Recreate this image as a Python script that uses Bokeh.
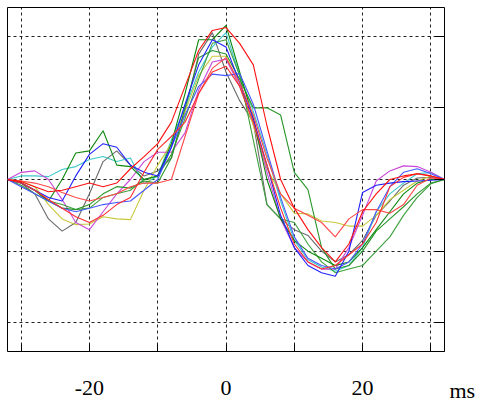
from bokeh.plotting import figure
from bokeh.models import FixedTicker, Range1d
from bokeh.embed import file_html
from bokeh.resources import INLINE

t_ms = [-32, -30, -28, -26, -24, -22, -20, -18, -16, -14, -12, -10, -8, -6, -4, -2,
        0, 2, 4, 6, 8, 10, 12, 14, 16, 18, 20, 22, 24, 26, 28, 30, 32]

gray = [0, -0.05, -0.2, -0.55, -0.72, -0.6, -0.2, 0.25, 0.4, 0.2, 0.05, 0.12, 0.3, 0.95, 1.75, 2.05,
        1.5, 1.1, 0.8, -0.35, -0.55, -0.7, -0.78, -1.0, -1.15, -1.05, -0.85, -0.5, -0.3, -0.08, 0.02, 0.03, 0]
cyan = [0, 0.05, 0.05, 0.04, 0.14, 0.18, 0.28, 0.32, 0.25, 0.3, -0.06, 0.05, 0.55, 1.0, 1.5, 1.85,
        2.05, 1.45, 0.95, 0.35, -0.3, -0.85, -1.12, -1.22, -1.28, -1.2, -0.95, -0.45, -0.2, -0.05, 0.08, 0.1, 0]
blue_a = [0, -0.05, -0.15, -0.25, -0.3, 0.05, 0.35, 0.5, 0.45, 0.2, 0.1, 0.05, 0.45, 1.05, 1.6, 1.95,
          1.85, 1.35, 0.85, 0.2, -0.5, -0.95, -1.2, -1.3, -1.35, -1.0, -0.18, -0.08, -0.05, -0.03, -0.02, -0.01, 0]
blue_b = [0, -0.1, -0.2, -0.3, -0.4, -0.45, -0.4, -0.35, -0.32, -0.3, -0.15, 0.0, 0.45, 0.9, 1.3, 1.47,
          1.45, 1.48, 1.05, 0.4, -0.25, -0.8, -1.1, -1.2, -1.25, -1.15, -0.9, -0.45, -0.1, 0.1, 0.15, 0.08, 0]
magenta = [0, 0.1, 0.12, 0.0, -0.28, -0.6, -0.7, -0.45, -0.2, 0.0, 0.25, 0.38, 0.38, 0.65, 1.25, 1.64,
           1.68, 1.3, 0.8, 0.1, -0.55, -0.95, -1.15, -1.25, -1.25, -0.95, -0.5, -0.02, 0.12, 0.19, 0.18, 0.1, 0]
yellow = [0, -0.02, -0.1, -0.35, -0.55, -0.63, -0.62, -0.52, -0.55, -0.56, -0.15, 0.2, 0.5, 0.95, 1.45, 1.72,
          1.72, 1.3, 0.75, 0.15, -0.2, -0.47, -0.48, -0.58, -0.6, -0.65, -0.65, -0.5, -0.28, -0.15, -0.02, 0.05, 0]
red_a = [0, -0.03, -0.1, -0.17, -0.15, -0.1, -0.05, -0.1, -0.05, 0.15, 0.32, 0.5, 0.8, 1.3, 1.8, 2.08,
         2.12, 1.9, 1.6, 0.75, 0.0, -0.4, -0.7, -0.95, -1.15, -0.9, -0.45, -0.2, 0.0, 0.05, 0.08, 0.05, 0]
red_b = [0, -0.05, -0.15, -0.28, -0.4, -0.52, -0.6, -0.5, -0.35, -0.25, 0.1, 0.42, 0.6, 0.8, 1.2, 1.5,
         1.58, 1.3, 0.8, 0.2, -0.4, -0.9, -1.15, -1.25, -1.2, -1.05, -0.9, -0.6, -0.1, 0.03, 0.08, 0.05, 0]
red_c = [0, -0.02, -0.05, -0.1, -0.18, -0.25, -0.3, -0.25, -0.2, -0.1, -0.05, -0.05, 0.0, 0.6, 1.2, 1.55,
         1.7, 1.35, 0.9, 0.3, -0.2, -0.4, -0.5, -0.6, -0.8, -0.55, -0.42, -0.42, -0.47, -0.35, -0.08, 0.02, 0]
green_a = [0, -0.05, -0.15, -0.3, 0.0, 0.37, 0.4, 0.68, 0.2, 0.18, 0.0, 0.05, 0.5, 1.2, 1.95, 1.95,
           2.15, 1.5, 0.85, 0.0, -0.55, -0.85, -1.0, -1.1, -1.2, -1.15, -0.95, -0.7, -0.45, -0.2, -0.05, 0.0, 0]
green_b = [0, -0.05, -0.15, -0.3, -0.4, -0.42, -0.35, -0.2, -0.1, -0.12, -0.02, -0.05, 0.3, 1.0, 1.7, 1.8,
           1.75, 1.4, 1.0, 1.0, 0.9, 0.1, -0.14, -0.95, -1.25, -1.2, -1.0, -0.72, -0.55, -0.38, -0.2, -0.05, 0]
green_c = [0, -0.08, -0.2, -0.3, -0.35, -0.42, -0.4, -0.25, -0.2, -0.15, 0.0, 0.05, 0.35, 0.85, 1.4, 1.9,
           1.95, 1.45, 0.55, -0.35, -0.55, -0.6, -0.9, -1.15, -1.3, -1.25, -1.2, -1.0, -0.8, -0.5, -0.25, -0.06, 0]

x_ticks = [-30, -20, -10, 0, 10, 20, 30]
x_tick_labels = {-30: "", -20: "-20", -10: "", 0: "0", 10: "", 20: "20", 30: ""}
y_grid_ticks = [-2, -1, 0, 1, 2]
y_axis_ticks = [-2.4, -2, -1, 0, 1, 2]
y_tick_labels = {-2.4: "\n\n\nms", -2: "", -1: "", 0: "", 1: "", 2: ""}

series = [
    (gray, "#6a6a6a"), (cyan, "#3cc8c8"), (yellow, "#c8c83c"), (magenta, "#c848d8"),
    (green_c, "#3ca03c"), (green_b, "#2a962a"), (green_a, "#0e880e"),
    (blue_b, "#4858ff"), (blue_a, "#2020ff"),
    (red_c, "#ff4848"), (red_b, "#ff3030"), (red_a, "#ff1010"),
]

p = figure(width=478, height=402, output_backend="svg", toolbar_location=None,
           x_range=Range1d(-32, 32), y_range=Range1d(-2.4, 2.4),
           x_axis_location="below", y_axis_location="right",
           min_border_left=7, min_border_top=7, min_border_right=34, min_border_bottom=51)
p.background_fill_color = "white"
p.border_fill_color = "white"
p.outline_line_color = "black"
p.outline_line_width = 1

xa = p.xaxis[0]
xa.ticker = FixedTicker(ticks=x_ticks)
xa.major_label_overrides = x_tick_labels
xa.axis_line_color = None
xa.major_tick_in = 7
xa.major_tick_out = 0
xa.major_tick_line_color = "black"
xa.minor_tick_line_color = None
xa.major_label_standoff = 29
xa.major_label_text_font = "Liberation Serif"
xa.major_label_text_font_size = "22px"
xa.major_label_text_color = "black"

ya = p.yaxis[0]
ya.ticker = FixedTicker(ticks=y_axis_ticks)
ya.major_label_overrides = y_tick_labels
ya.axis_line_color = None
ya.major_tick_in = 10
ya.major_tick_out = 0
ya.major_tick_line_color = "black"
ya.minor_tick_line_color = None
ya.major_label_standoff = 5
ya.major_label_text_font = "Liberation Serif"
ya.major_label_text_font_size = "22px"
ya.major_label_text_color = "black"
ya.major_label_text_line_height = 1.05

p.xgrid[0].grid_line_color = "#222222"
p.xgrid[0].grid_line_dash = "3 3"
p.ygrid[0].ticker = FixedTicker(ticks=y_grid_ticks)
p.ygrid[0].grid_line_color = "#222222"
p.ygrid[0].grid_line_dash = "3 3"

for vals, col in series:
    p.line(t_ms, vals, line_color=col, line_width=1.1)

open("out.html", "w").write(file_html(p, INLINE))
